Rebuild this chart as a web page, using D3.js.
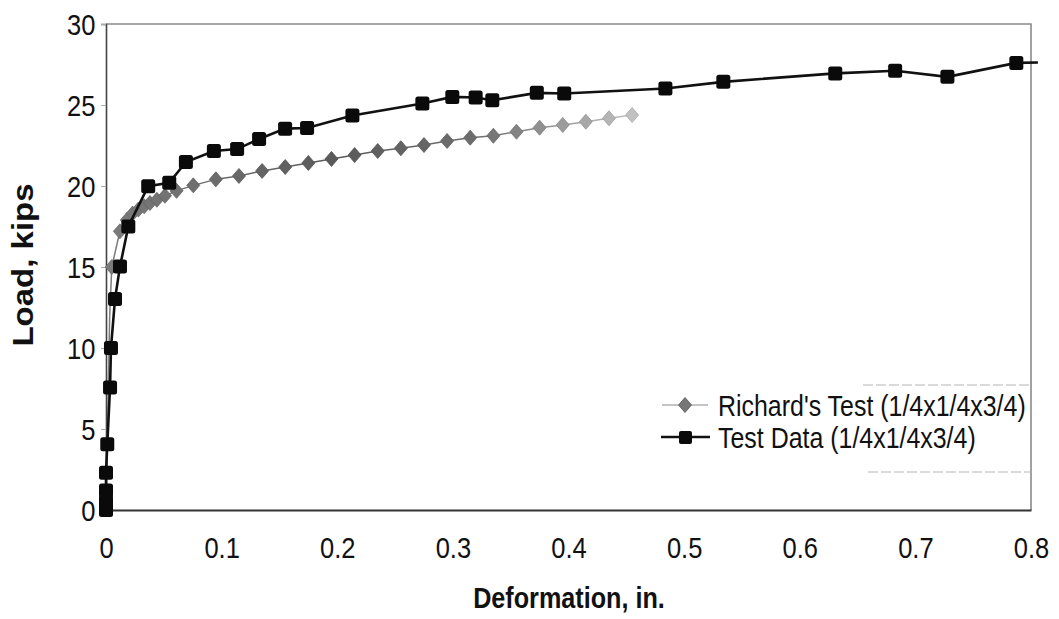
<!DOCTYPE html>
<html><head><meta charset="utf-8">
<script src="https://cdn.jsdelivr.net/npm/d3@7"></script>
<style>body{margin:0;background:#fff}svg{display:block}text{font-family:"Liberation Sans",Arial,sans-serif;fill:#111}</style>
</head><body>
<svg id="c" width="1059" height="619"></svg>
<script>
// ---- data ----
const xTicks = [0, 0.1, 0.2, 0.3, 0.4, 0.5, 0.6, 0.7, 0.8];
const xTickLabels = ["0", "0.1", "0.2", "0.3", "0.4", "0.5", "0.6", "0.7", "0.8"];
const yTicks = [0, 5, 10, 15, 20, 25, 30];
const yTickLabels = ["0", "5", "10", "15", "20", "25", "30"];
const seriesNames = ["Richard's Test (1/4x1/4x3/4)", "Test Data (1/4x1/4x3/4)"];
const xTitle = "Deformation, in.";
const yTitle = "Load, kips";

const richX = [0, 0.0008, 0.0016, 0.0024, 0.0032, 0.005, 0.012, 0.018, 0.023, 0.028, 0.033, 0.038, 0.044, 0.051, 0.061, 0.0755,
  0.095, 0.115, 0.135, 0.155, 0.175, 0.195, 0.215, 0.235, 0.255, 0.275, 0.295, 0.315, 0.335, 0.355, 0.375, 0.395, 0.415, 0.435, 0.455];
const richY = [0, 3, 6, 9, 12, 15, 17.2, 17.9, 18.3, 18.55, 18.75, 18.95, 19.15, 19.4, 19.7, 20.04,
  20.41, 20.62, 20.93, 21.17, 21.42, 21.67, 21.91, 22.16, 22.33, 22.53, 22.78, 22.98, 23.1, 23.35, 23.6, 23.77, 23.97, 24.18, 24.38];

const testX = [0, 0, 0, 0, 0, 0.0011, 0.0035, 0.0043, 0.0078, 0.0121, 0.0193, 0.0365, 0.0547, 0.0691, 0.0933, 0.1134, 0.1324,
  0.1549, 0.1739, 0.2131, 0.2736, 0.2995, 0.3197, 0.3341, 0.3726, 0.3963, 0.4838, 0.5339, 0.6307, 0.6825, 0.7277, 0.7873, 0.806];
const testY = [0, 0.1, 0.5, 1.2, 2.3, 4.06, 7.56, 10.0, 13.03, 15.03, 17.5, 19.99, 20.2, 21.48, 22.16, 22.28, 22.9,
  23.54, 23.58, 24.35, 25.09, 25.5, 25.46, 25.29, 25.75, 25.71, 26.02, 26.43, 26.95, 27.11, 26.74, 27.6, 27.62];

// ---- layout ----
const L = 106, R = 1031, T = 24, B = 510;
const SX = 0.88;
const svg = d3.select("#c");
const x = d3.scaleLinear().domain([0, 0.8]).range([L, R]);
const y = d3.scaleLinear().domain([0, 30]).range([B, T]);

const rich = richX.map((v, i) => ({x: v, y: richY[i]}));
const test = testX.map((v, i) => ({x: v, y: testY[i]}));

// border top/right
svg.append("path").attr("d", `M${L},${T}H${R}V${B}`).attr("fill", "none")
  .attr("stroke", "#8a8a8a").attr("stroke-width", 1.6);

// axes
const gy = svg.append("g").attr("transform", `translate(${L},0)`)
  .call(d3.axisLeft(y).tickValues(yTicks).tickFormat((d, i) => yTickLabels[i]).tickSize(5).tickPadding(7));
gy.select(".domain").attr("stroke", "#444").attr("stroke-width", 1.6);
gy.selectAll(".tick line").attr("stroke", "#aaa");
gy.selectAll(".tick text").attr("font-size", 29).attr("transform", `scale(${SX},1)`).attr("dy", "0.36em");

const gx = svg.append("g").attr("transform", `translate(0,${B})`)
  .call(d3.axisBottom(x).tickValues(xTicks).tickFormat((d, i) => xTickLabels[i]).tickSize(0).tickPadding(27));
gx.select(".domain").attr("stroke", "#333").attr("stroke-width", 1.8);
gx.selectAll(".tick text").attr("font-size", 29).attr("transform", `scale(${SX},1)`);
svg.selectAll(".tick text").style("font-family", '"Liberation Sans",Arial,sans-serif').attr("fill", "#111");

// titles
svg.append("text").attr("transform", `translate(569,608) scale(0.84,1)`).attr("text-anchor", "middle")
  .attr("font-size", 30).attr("font-weight", "bold").text(xTitle);
svg.append("text").attr("transform", `translate(33,265) rotate(-90) scale(1,0.88)`).attr("text-anchor", "middle")
  .attr("font-size", 33).attr("font-weight", "bold").text(yTitle);

// richard's series, grey fading
const shade = d3.scaleLinear().domain([0, 0.2, 0.32, 0.46]).range(["#7c7c7c", "#595959", "#6e6e6e", "#c4c4c4"]);
const segs = rich.slice(1).map((d, i) => [rich[i], d]);
svg.append("g").selectAll("line").data(segs).join("line")
  .attr("x1", d => x(d[0].x)).attr("y1", d => y(d[0].y))
  .attr("x2", d => x(d[1].x)).attr("y2", d => y(d[1].y))
  .attr("stroke", d => shade((d[0].x + d[1].x) / 2)).attr("stroke-width", 1.5);
const diamond = "M0,-7.5L6.5,0L0,7.5L-6.5,0Z";
svg.append("g").selectAll("path").data(rich.filter(d => d.y >= 15)).join("path")
  .attr("transform", d => `translate(${x(d.x)},${y(d.y)})`).attr("d", diamond)
  .attr("fill", d => shade(d.x)).attr("stroke", d => d3.color(shade(d.x)).darker(0.4)).attr("stroke-width", 0.8);

// test data series
svg.append("path").datum(test).attr("fill", "none").attr("stroke", "#111").attr("stroke-width", 2.6)
  .attr("d", d3.line().x(d => x(d.x)).y(d => y(d.y)));
svg.append("g").selectAll("rect").data(test.filter(d => d.x <= 0.8)).join("rect")
  .attr("x", d => x(d.x) - 7).attr("y", d => y(d.y) - 7).attr("width", 14).attr("height", 14)
  .attr("rx", 2.5).attr("fill", "#0a0a0a");

// legend (faint box edges)
svg.append("path").attr("d", `M863,385H${R}M868,472H${R}`).attr("stroke", "#b5b5b5")
  .attr("stroke-width", 1).attr("stroke-dasharray", "10,3");
const lg = svg.append("g");
lg.append("line").attr("x1", 662).attr("x2", 708).attr("y1", 405).attr("y2", 405).attr("stroke", "#8a8a8a").attr("stroke-width", 1.2);
lg.append("path").attr("transform", "translate(685,405)").attr("d", diamond).attr("fill", "#777").attr("stroke", "#555").attr("stroke-width", 0.8);
lg.append("line").attr("x1", 661).attr("x2", 710).attr("y1", 437).attr("y2", 437).attr("stroke", "#111").attr("stroke-width", 2.4);
lg.append("rect").attr("x", 679).attr("y", 431).attr("width", 13).attr("height", 13).attr("rx", 2).attr("fill", "#0a0a0a");
lg.append("text").attr("transform", `translate(718,416) scale(0.86,1)`).attr("font-size", 29).text(seriesNames[0]);
lg.append("text").attr("transform", `translate(718,448) scale(0.86,1)`).attr("font-size", 29).text(seriesNames[1]);
</script>
</body></html>
